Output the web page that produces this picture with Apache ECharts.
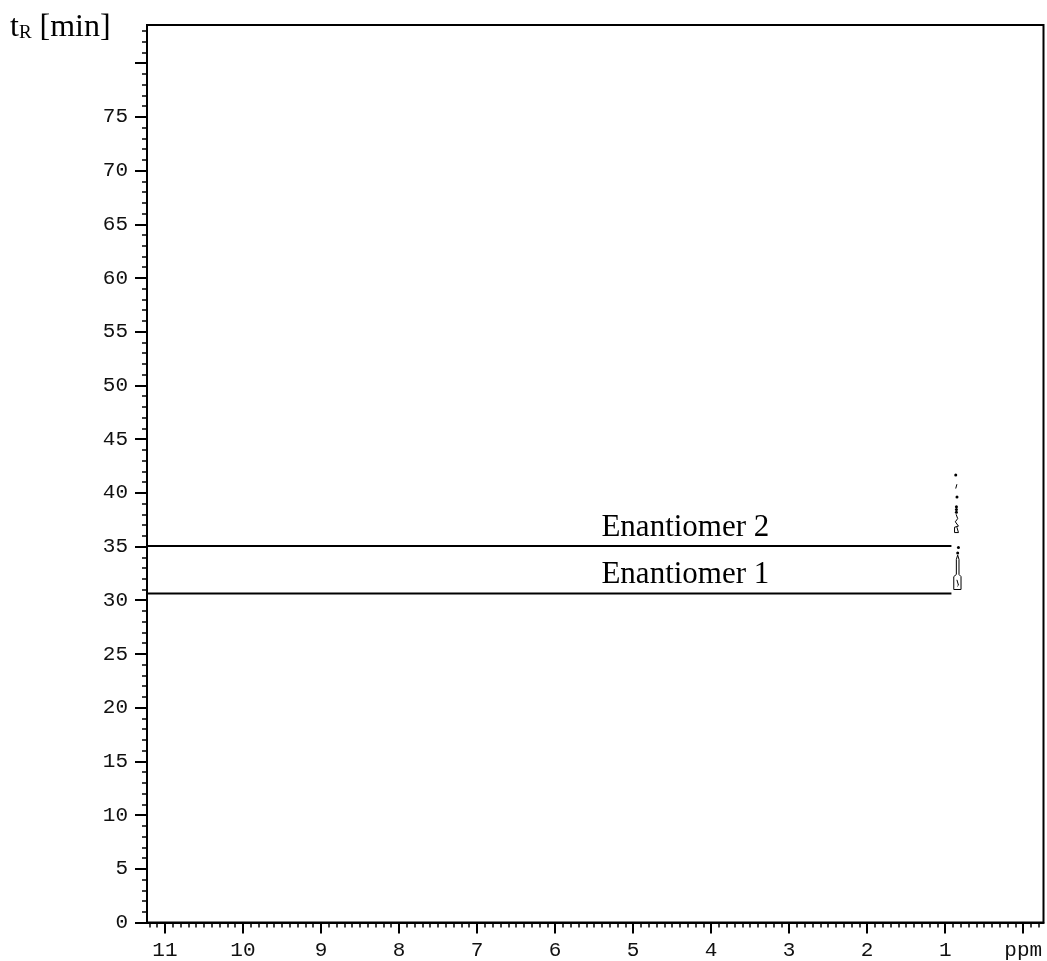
<!DOCTYPE html>
<html>
<head>
<meta charset="utf-8">
<script src="https://cdn.jsdelivr.net/npm/echarts@6/dist/echarts.min.js"></script>
<style>
html,body{margin:0;padding:0;background:#fff}
#chart{width:1047px;height:961px}
</style>
</head>
<body>
<div id="chart"></div>
<script>
// axes
var ppmRange = [-0.26, 11.23];
var timeRange = [0, 83.55];
var ppmMajor = [0, 1, 2, 3, 4, 5, 6, 7, 8, 9, 10, 11];
var timeMajor = [0, 5, 10, 15, 20, 25, 30, 35, 40, 45, 50, 55, 60, 65, 70, 75, 80];
var timeLabels = [0, 5, 10, 15, 20, 25, 30, 35, 40, 45, 50, 55, 60, 65, 70, 75];

// enantiomer traces
var enantiomerNames = ['Enantiomer 1', 'Enantiomer 2'];
var enantiomerTimes = [30.62, 35.05];
var traceStartPpm = 11.23;
var traceEndPpm = 0.92;
var labelPpm = 4.33;

// 2D spectrum contours near 0.85 ppm
var contourPaths = [
    [[0.857, 32.4], [0.857, 33.8], [0.84, 34.2], [0.823, 33.8], [0.823, 32.4], [0.797, 32.2], [0.797, 31.0], [0.89, 31.0], [0.89, 32.2], [0.857, 32.4]],
    [[0.85, 31.9], [0.83, 31.4], [0.845, 31.3]],
    [[0.86, 38.0], [0.84, 37.6], [0.87, 37.3], [0.83, 36.9], [0.88, 36.8], [0.88, 36.3], [0.83, 36.3], [0.85, 36.8]],
    [[0.865, 40.4], [0.85, 40.8]]
];
var contourDots = [[0.865, 41.65], [0.849, 39.6], [0.856, 38.7], [0.856, 38.45], [0.856, 38.2], [0.83, 34.9], [0.84, 34.4]];

function steps(a, b, d){
    var out = [];
    for(var v = a; v <= b + 1e-9; v += d){ out.push(Math.round(v * 10) / 10); }
    return out;
}
var ppmMinor = steps(-0.2, 11.2, 0.1);
var timeMinor = steps(0, 83, 1);

var axisFont = {fontFamily: 'Liberation Mono', fontSize: 21, color: '#111'};
var black = '#000';

var series = [];
enantiomerTimes.forEach(function(t, i){
    series.push({
        type: 'line',
        symbol: 'none',
        silent: true,
        lineStyle: {color: black, width: 2},
        data: [[traceStartPpm, t], [traceEndPpm, t]]
    });
    series.push({
        type: 'scatter',
        symbolSize: 0,
        silent: true,
        itemStyle: {opacity: 1},
        label: {
            show: true,
            position: 'top',
            distance: 3,
            formatter: enantiomerNames[i],
            fontFamily: 'Liberation Serif',
            fontSize: 31,
            color: '#000',
            opacity: 1,
            textBorderWidth: 0
        },
        data: [[labelPpm, t]]
    });
});
contourPaths.forEach(function(p){
    series.push({
        type: 'line',
        symbol: 'none',
        silent: true,
        lineStyle: {color: black, width: 1},
        data: p
    });
});
series.push({
    type: 'scatter',
    symbolSize: 3,
    silent: true,
    itemStyle: {color: black, opacity: 1},
    data: contourDots
});

var myChart = echarts.init(document.getElementById('chart'));
var option = {
    backgroundColor: '#fff',
    animation: false,
    grid: {
        left: 147, right: 3.5, top: 25, bottom: 38.5,
        show: true, borderColor: black, borderWidth: 2
    },
    graphic: [{
        type: 'text',
        left: 10,
        top: 12,
        style: {
            text: '{t|t}{s|R}{t| [min]}',
            rich: {
                t: {fontFamily: 'Liberation Serif', fontSize: 32, fill: '#000'},
                s: {fontFamily: 'Liberation Serif', fontSize: 19, fill: '#000', padding: [10, 0, 0, 0]}
            }
        }
    }],
    xAxis: [{
        type: 'value',
        inverse: true,
        min: ppmRange[0],
        max: ppmRange[1],
        position: 'bottom',
        splitLine: {show: false},
        axisLine: {onZero: false, lineStyle: {color: black, width: 2}},
        axisTick: {customValues: ppmMajor, length: 11, lineStyle: {color: black, width: 2}},
        axisLabel: {
            customValues: ppmMajor,
            margin: 17,
            fontFamily: axisFont.fontFamily, fontSize: axisFont.fontSize, color: axisFont.color,
            formatter: function(v){ return v === 0 ? 'ppm' : String(v); }
        }
    }, {
        type: 'value',
        inverse: true,
        min: ppmRange[0],
        max: ppmRange[1],
        position: 'bottom',
        splitLine: {show: false},
        axisLine: {show: false, onZero: false},
        axisTick: {customValues: ppmMinor, length: 5, lineStyle: {color: black, width: 1.5}},
        axisLabel: {show: false}
    }],
    yAxis: [{
        type: 'value',
        min: timeRange[0],
        max: timeRange[1],
        position: 'left',
        splitLine: {show: false},
        axisLine: {onZero: false, lineStyle: {color: black, width: 2}},
        axisTick: {customValues: timeMajor, length: 12, lineStyle: {color: black, width: 2}},
        axisLabel: {
            customValues: timeLabels,
            margin: 19,
            fontFamily: axisFont.fontFamily, fontSize: axisFont.fontSize, color: axisFont.color
        }
    }, {
        type: 'value',
        min: timeRange[0],
        max: timeRange[1],
        position: 'left',
        offset: 0,
        splitLine: {show: false},
        axisLine: {show: false, onZero: false},
        axisTick: {customValues: timeMinor, length: 5, lineStyle: {color: black, width: 1.5}},
        axisLabel: {show: false}
    }],
    series: series
};
myChart.setOption(option);
</script>
</body>
</html>
